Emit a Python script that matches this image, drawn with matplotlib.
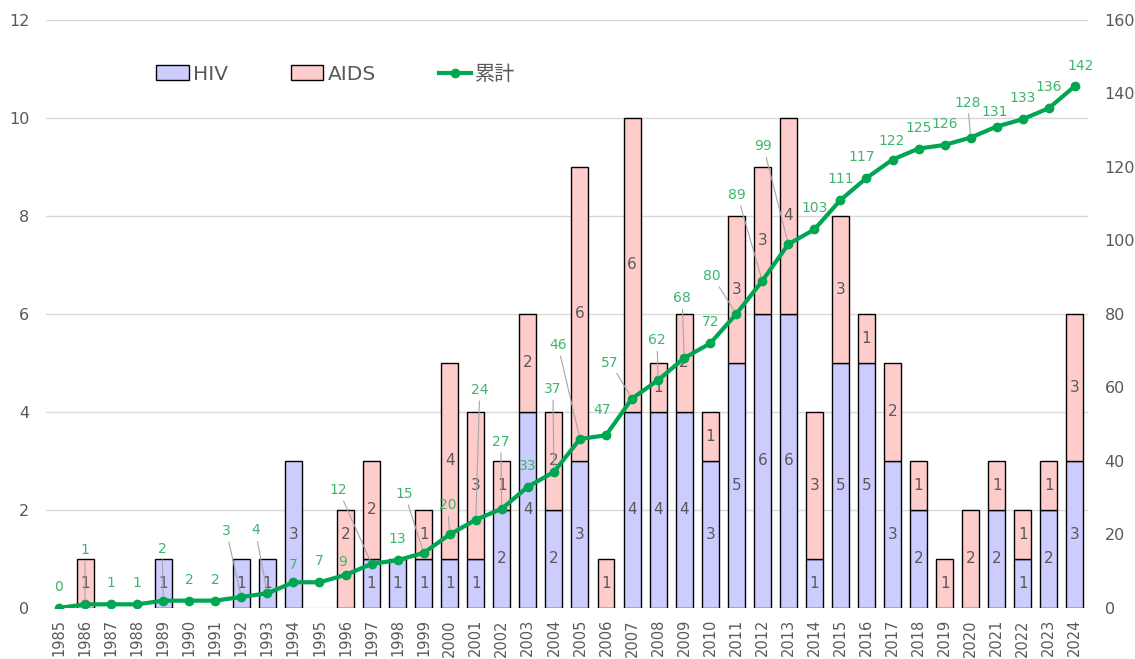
import numpy as np
import matplotlib
matplotlib.use("Agg")
import matplotlib.pyplot as plt
from matplotlib.patches import Patch

plt.rcParams['font.family'] = ['DejaVu Sans', 'Noto Sans CJK JP']

years = list(range(1985, 2025))
hiv = [0, 0, 0, 0, 1, 0, 0, 1, 1, 3,
       0, 0, 1, 1, 1, 1, 1, 2, 4, 2,
       3, 0, 4, 4, 4, 3, 5, 6, 6, 1,
       5, 5, 3, 2, 0, 0, 2, 1, 2, 3]
aids = [0, 1, 0, 0, 0, 0, 0, 0, 0, 0,
        0, 2, 2, 0, 1, 4, 3, 1, 2, 2,
        6, 1, 6, 1, 2, 1, 3, 3, 4, 3,
        3, 1, 2, 1, 1, 2, 1, 1, 1, 3]
total = [0, 1, 1, 1, 2, 2, 2, 3, 4, 7,
         7, 9, 12, 13, 15, 20, 24, 27, 33, 37,
         46, 47, 57, 62, 68, 72, 80, 89, 99, 103,
         111, 117, 122, 125, 126, 128, 131, 133, 136, 142]

# label offsets for the cumulative labels in pixels (dx, dy), default (0, 21)
lab_off = {1986: (0, 54), 1989: (-1, 52), 1992: (-15, 66), 1993: (-12, 63),
           1994: (0, 17), 1996: (-3, 13), 1997: (-33, 74), 1999: (-19, 59),
           2000: (-2, 29), 2001: (4, 130), 2002: (-1, 67), 2004: (-1, 83),
           2005: (-22, 94), 2006: (-4, 25), 2007: (-22, 36), 2008: (-1, 40),
           2009: (-2, 60), 2011: (-24, 38), 2012: (-25, 86), 2013: (-25, 98),
           2016: (-5, 21), 2017: (-1, 19), 2020: (-3, 35), 2021: (-2, 15),
           2024: (6, 20)}
bar_lab_off = {1996: 24}

green = '#00A651'
lab_green = '#3DB56E'
grey = '#595959'
hiv_col = '#CCCCFF'
aids_col = '#FFCCCC'

fig = plt.figure(figsize=(11.35, 6.59), dpi=100)
ax = fig.add_axes([0.0405, 0.0774, 0.918, 0.8923])
x = np.arange(len(years))
w = 0.65

hiv_a = np.array(hiv)
aids_a = np.array(aids)
m1 = hiv_a > 0
m2 = aids_a > 0
ax.bar(x[m1], hiv_a[m1], w, color=hiv_col, edgecolor='black', linewidth=1.0, zorder=2)
ax.bar(x[m2], aids_a[m2], w, bottom=hiv_a[m2], color=aids_col, edgecolor='black', linewidth=1.0, zorder=2)

for i in x:
    if hiv[i] > 0:
        ax.text(i, hiv[i] / 2, str(hiv[i]), ha='center', va='center', fontsize=11, color=grey, zorder=3)
    if aids[i] > 0:
        yy = hiv[i] + aids[i] / 2
        ax.annotate(str(aids[i]), (i, yy), xytext=(0, bar_lab_off.get(years[i], 0) * 0.72),
                    textcoords='offset points', ha='center', va='center', fontsize=11, color=grey, zorder=3)

ax.set_xlim(-0.5, len(years) - 0.5)
ax.set_ylim(0, 12)
ax.set_yticks(range(0, 13, 2))
ax.set_xticks(x)
ax.set_xticklabels([str(y) for y in years], rotation=90)
ax.grid(axis='y', color='#D9D9D9', linewidth=1.0, zorder=0)
ax.set_axisbelow(True)
for s in ax.spines.values():
    s.set_visible(False)
ax.tick_params(axis='both', length=0, colors=grey)
ax.tick_params(axis='y', labelsize=11.5, pad=12)
ax.tick_params(axis='x', labelsize=10.5, pad=8)

ax2 = ax.twinx()
ax2.set_ylim(0, 160)
ax2.set_yticks(range(0, 161, 20))
for s in ax2.spines.values():
    s.set_visible(False)
ax2.tick_params(axis='y', length=0, colors=grey, labelsize=11.5, pad=12)
ln, = ax2.plot(x, total, color=green, linewidth=3, marker='o', markersize=6, zorder=4)

for i in x:
    dx, dy = lab_off.get(years[i], (0, 21))
    far = (dx * dx + dy * dy) ** 0.5 > 28
    ax2.annotate(str(total[i]), (i, total[i]), xytext=(dx * 0.72, dy * 0.72),
                 textcoords='offset points', ha='center', va='center',
                 fontsize=10, color=lab_green, zorder=5,
                 arrowprops=dict(arrowstyle='-', color='#A6A6A6', lw=0.8,
                                 shrinkA=1, shrinkB=3) if far else None)

h1 = Patch(facecolor=hiv_col, edgecolor='black', linewidth=1.0)
h2 = Patch(facecolor=aids_col, edgecolor='black', linewidth=1.0)
leg = ax2.legend([h1, h2, ln], ['HIV', 'AIDS', '累計'], loc='center left',
                 bbox_to_anchor=(0.106, 0.908), ncol=3, frameon=False,
                 fontsize=14.5, handlelength=1.6, handletextpad=0.2,
                 columnspacing=3.15, borderpad=0, borderaxespad=0)
for t in leg.get_texts():
    t.set_color(grey)

fig.savefig('out.png', dpi=100)
